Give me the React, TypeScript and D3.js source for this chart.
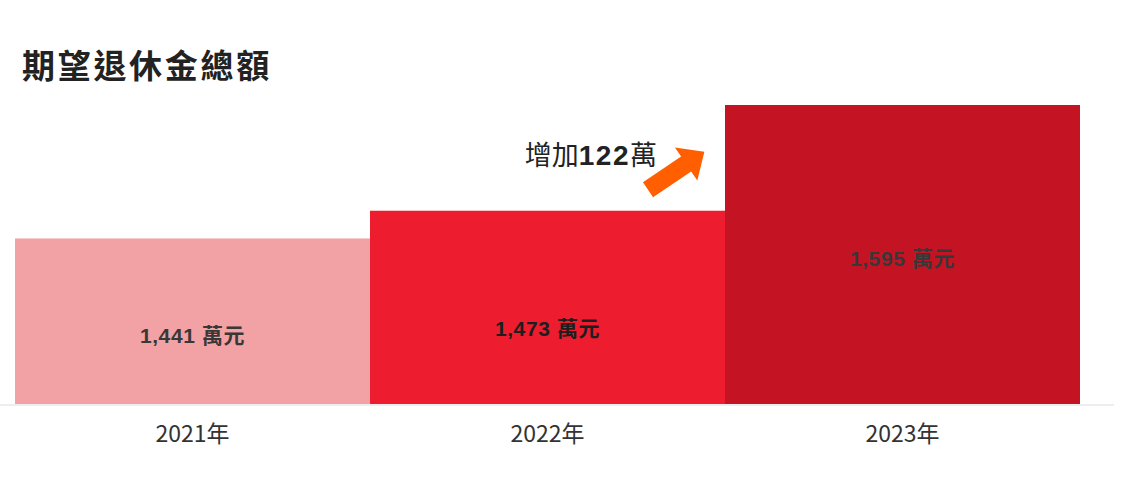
import * as d3 from "d3";
import { useEffect, useRef } from "react";

const years = ["2021年", "2022年", "2023年"];
const totals = [1441, 1473, 1595];
const barColors = ["#f2a1a4", "#ed1c2e", "#c41424"];
const title = "期望退休金總額";
const increase = 122;

const App = () => {
  const ref = useRef<SVGSVGElement>(null);

  useEffect(() => {
    document.body.style.margin = "0";
    const svg = d3.select(ref.current);
    svg.selectAll("*").remove();
    const width = 1132;
    const height = 495;
    svg.attr("width", width).attr("height", height);

    const cjk = "'Noto Sans CJK TC', 'Noto Sans', sans-serif";
    const latin = "'Liberation Sans', Arial, 'Noto Sans CJK TC', sans-serif";

    const x = d3.scaleBand().domain(years).range([15, 1080]).padding(0);
    const y = d3.scaleLinear().domain([1250, 1595]).range([404, 105]);

    // title
    svg
      .append("text")
      .attr("x", 22)
      .attr("y", 78)
      .attr("font-family", cjk)
      .attr("font-size", 33)
      .attr("font-weight", 700)
      .attr("letter-spacing", 2.7)
      .attr("fill", "#222")
      .text(title);

    // baseline
    svg
      .append("line")
      .attr("x1", 0)
      .attr("x2", 1114)
      .attr("y1", 405)
      .attr("y2", 405)
      .attr("stroke", "#eeeeee")
      .attr("stroke-width", 2);

    const rows = years.map((yr, i) => ({ yr, v: totals[i], c: barColors[i] }));

    svg
      .selectAll("rect.bar")
      .data(rows)
      .enter()
      .append("rect")
      .attr("class", "bar")
      .attr("x", (d) => x(d.yr)!)
      .attr("y", (d) => y(d.v))
      .attr("width", x.bandwidth())
      .attr("height", (d) => y(1250) - y(d.v))
      .attr("fill", (d) => d.c);

    // value labels, sitting a bit below the middle of each bar
    const labelFrac = [0.63, 0.65, 0.54];
    const fmt = d3.format(",");
    svg
      .selectAll("text.val")
      .data(rows)
      .enter()
      .append("text")
      .attr("class", "val")
      .attr("x", (d) => x(d.yr)! + x.bandwidth() / 2)
      .attr("y", (d, i) => y(d.v) + labelFrac[i] * (y(1250) - y(d.v)))
      .attr("text-anchor", "middle")
      .attr("font-family", latin)
      .attr("font-size", 21)
      .attr("font-weight", 700)
      .attr("letter-spacing", 0.6)
      .attr("fill", (d, i) => (i === 1 ? "#1e1e1e" : "#383838"))
      .text((d) => `${fmt(d.v)} 萬元`);

    // x axis
    const xAxis = d3.axisBottom(x).tickSize(0).tickPadding(0);
    const gx = svg.append("g").attr("transform", "translate(0,442)").call(xAxis);
    gx.select(".domain").remove();
    gx.selectAll("text")
      .attr("dy", 0)
      .attr("font-family", cjk)
      .attr("font-size", 23)
      .attr("fill", "#333");

    // annotation
    const ax = x(years[2])!;
    const ann = svg
      .append("text")
      .attr("x", ax - 68)
      .attr("y", 165)
      .attr("text-anchor", "end")
      .attr("fill", "#222");
    ann.append("tspan").attr("font-family", cjk).attr("font-size", 27).text("增加");
    ann
      .append("tspan")
      .attr("font-family", latin)
      .attr("font-size", 28)
      .attr("font-weight", 700)
      .attr("letter-spacing", 1.5)
      .text(String(increase));
    ann.append("tspan").attr("font-family", cjk).attr("font-size", 27).text("萬");

    // arrow
    const arrow = d3.path();
    arrow.moveTo(0, -9);
    arrow.lineTo(46, -9);
    arrow.lineTo(46, -20);
    arrow.lineTo(68, 0);
    arrow.lineTo(46, 20);
    arrow.lineTo(46, 9);
    arrow.lineTo(0, 9);
    arrow.closePath();
    svg
      .append("path")
      .attr("d", arrow.toString())
      .attr("transform", `translate(${ax - 77},${y(totals[1]) - 21}) rotate(-34)`)
      .attr("fill", "#ff5f00");
  }, []);

  return <svg ref={ref} style={{ display: "block" }}></svg>;
};

export default App;
